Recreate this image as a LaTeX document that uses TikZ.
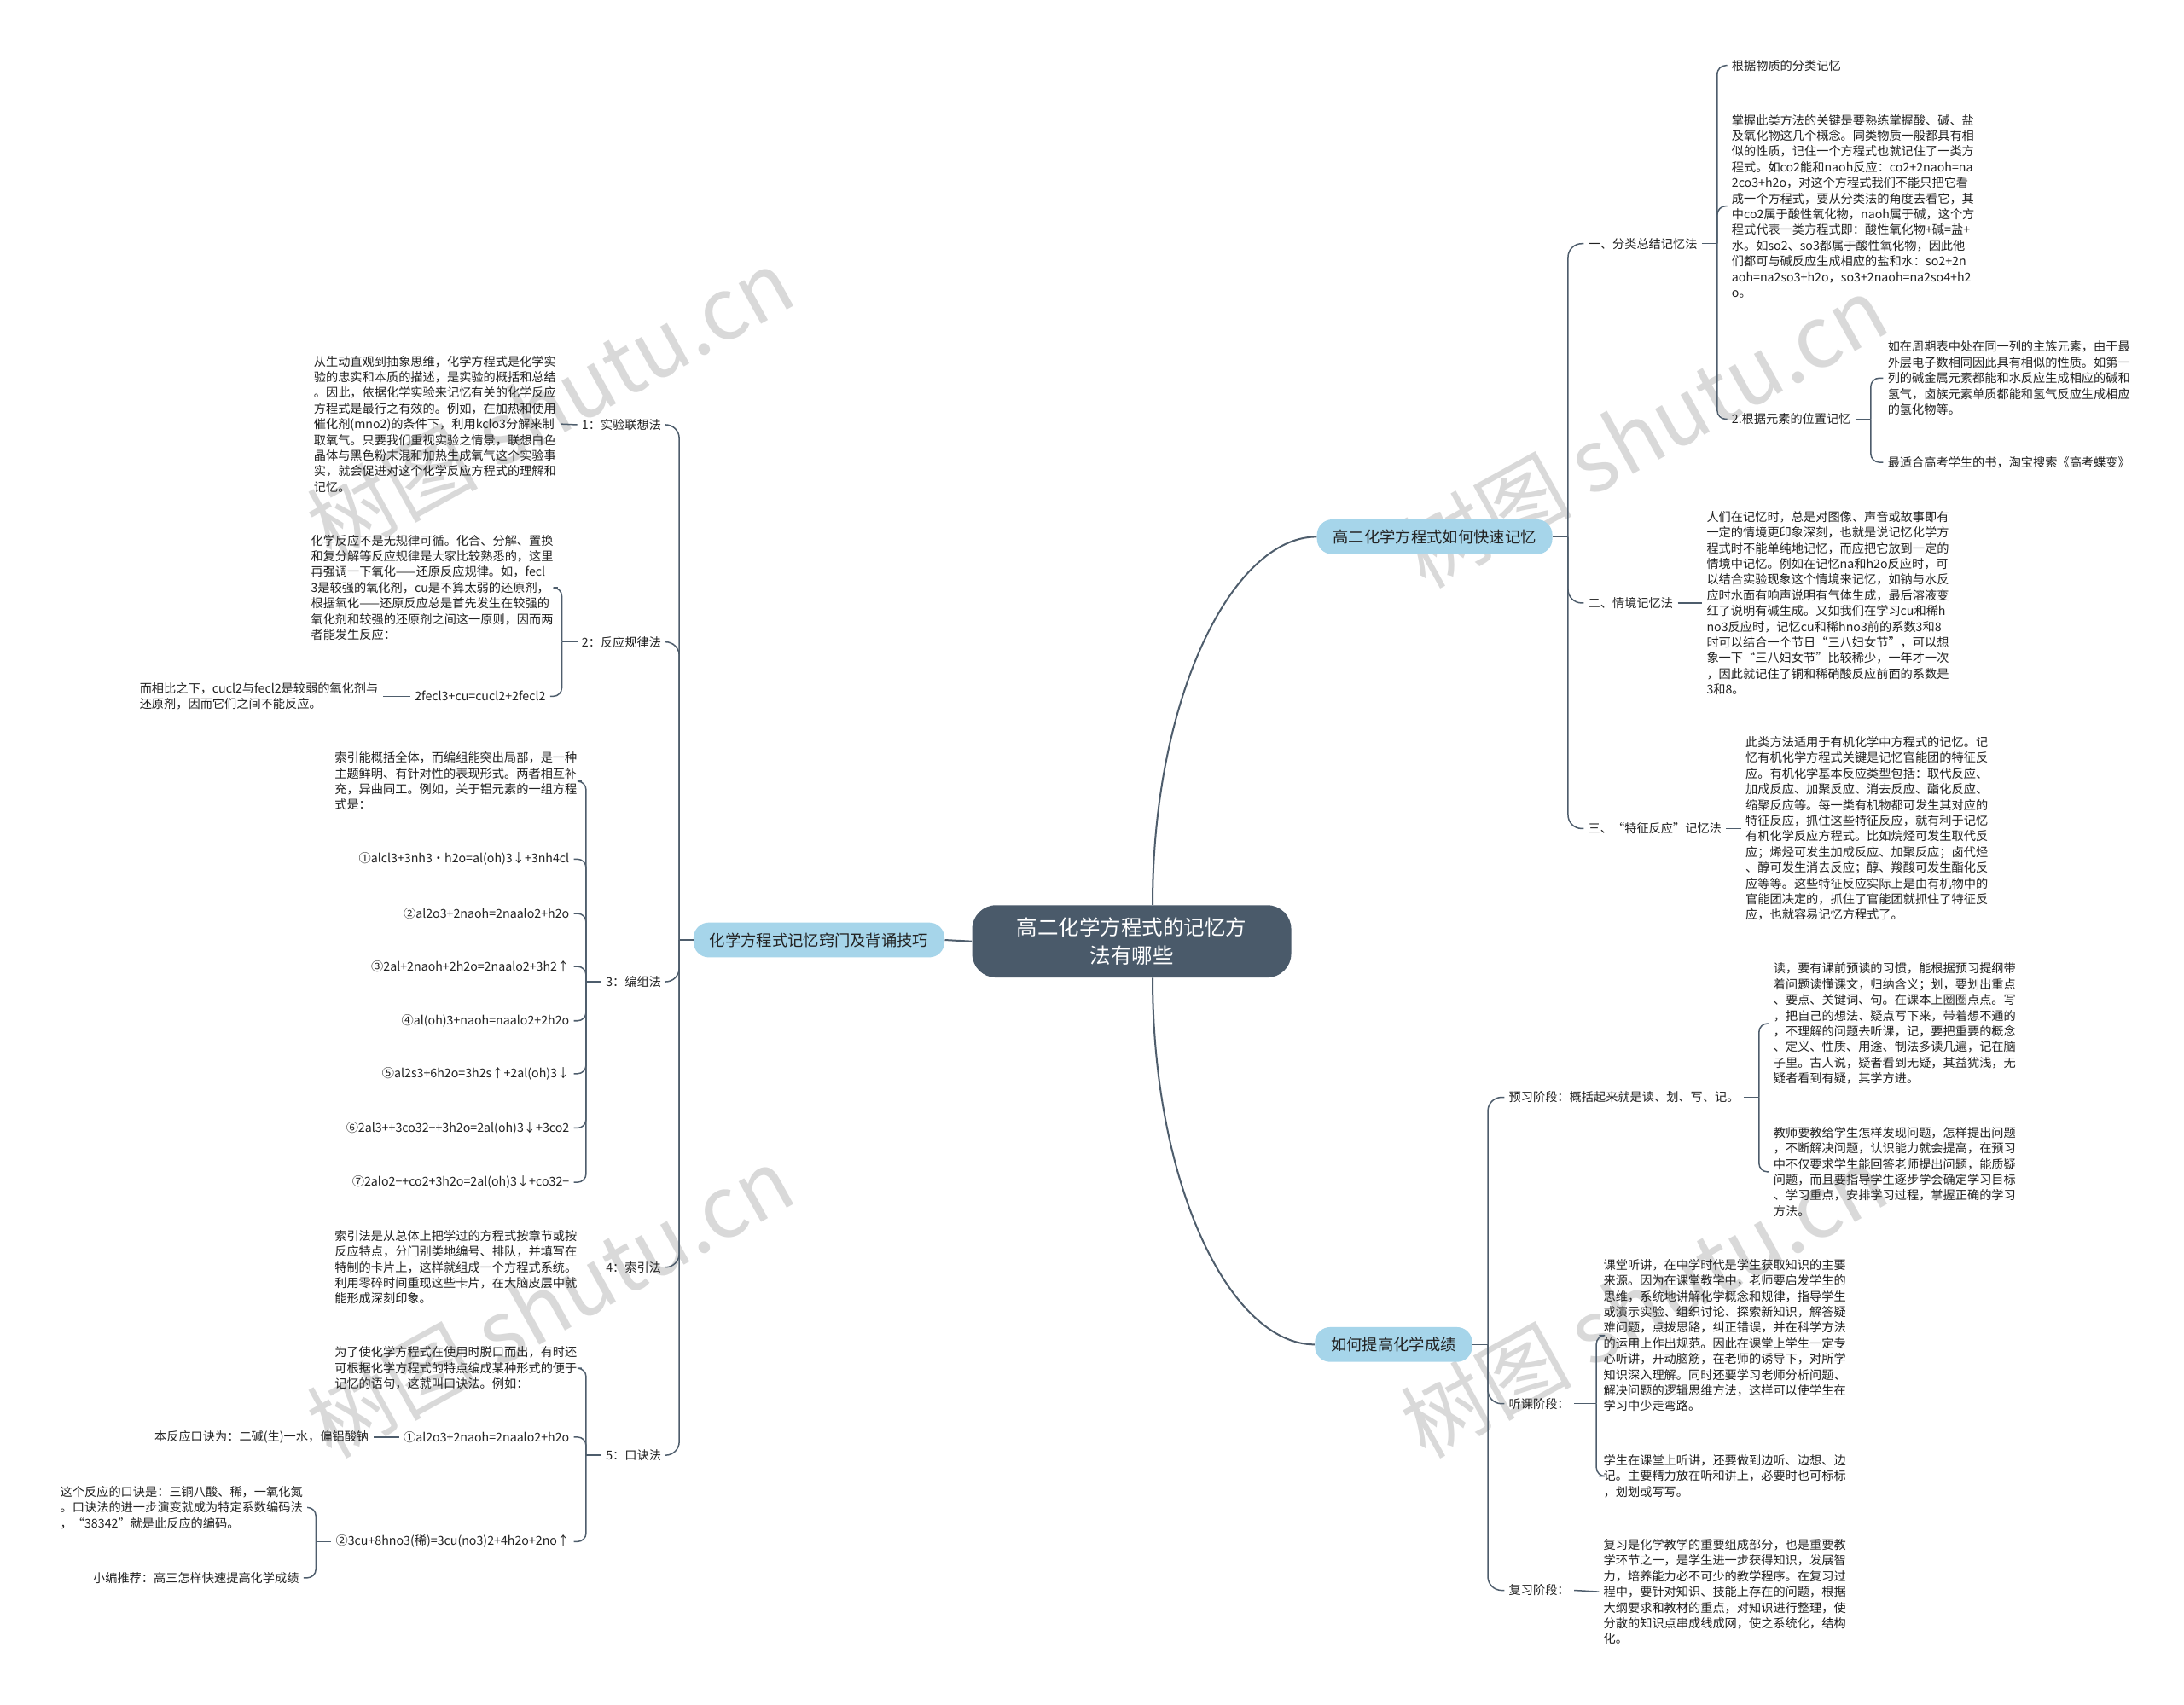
\documentclass[tikz,border=0pt]{standalone}
\usepackage{fontspec}
\setmainfont{Noto Sans CJK SC}
\usetikzlibrary{calc}
\definecolor{ln}{HTML}{4E5D6C}
\definecolor{cn}{HTML}{4A5A6A}
\definecolor{bl}{HTML}{A6D5EA}
\definecolor{tx}{HTML}{222222}
\begin{document}
\begin{tikzpicture}[x=0.8163pt,y=-0.8163pt,
  t/.style={font=\fontsize{7.1pt}{9.2pt}\selectfont, text=tx, inner sep=0pt, inner xsep=2.5pt, align=left},
  tw/.style={t, anchor=west},
  te/.style={t, anchor=east},
  br/.style={fill=bl, rounded corners=9pt, minimum height=20.4pt, inner xsep=9.5pt, inner ysep=0pt,
    font=\fontsize{9.15pt}{11pt}\selectfont, text=tx},
  c/.style={draw=ln, line width=0.75pt, rounded corners=5pt},
  wm/.style={rotate=29, text=black!15, font=\fontsize{50pt}{50pt}\selectfont}]
\useasboundingbox (0,0) rectangle (1568,1224);
\fill[white] (0,0) rectangle (1568,1224);
% watermarks
\node[wm] (w1) at (395,290) {树图 shutu.cn};
\node[wm] (w2) at (1180,310) {树图 shutu.cn};
\node[wm] (w3) at (395,935) {树图 shutu.cn};
\node[wm] (w4) at (1180,935) {树图 shutu.cn};

% center and branches
\node[fill=cn, rounded corners=14pt, minimum width=187pt, minimum height=42.4pt, inner sep=0pt,
  align=center, text=white, font=\fontsize{12.25pt}{16.3pt}\selectfont]
  (C) at (812.5,676) {高二化学方程式的记忆方\\法有哪些};
\node[br] (b1) at (1030,385.5) {高二化学方程式如何快速记忆};
\node[br] (b2) at (1000.5,965.5) {如何提高化学成绩};
\node[br] (L) at (588,675) {化学方程式记忆窍门及背诵技巧};

\draw[c, line width=1pt] ($(C.north)+(15,0)$) .. controls ($(C.north)+(15,-150)$) and ($(b1.west)+(-60,0)$) .. (b1.west);
\draw[c, line width=1pt] ($(C.south)+(15,0)$) .. controls ($(C.south)+(15,150)$) and ($(b2.west)+(-60,0)$) .. (b2.west);
\draw[c, line width=1pt] (C.west) -- (L.east);

% ---------- right branch 1 ----------
\node[tw] (r1) at (1137,175) {一、分类总结记忆法};
\node[tw] (r1a) at (1240,47) {根据物质的分类记忆};
\node[tw] (r1b) at (1240,148) {掌握此类方法的关键是要熟练掌握酸、碱、盐\\及氧化物这几个概念。同类物质一般都具有相\\似的性质，记住一个方程式也就记住了一类方\\程式。如co2能和naoh反应：co2+2naoh=na\\2co3+h2o，对这个方程式我们不能只把它看\\成一个方程式，要从分类法的角度去看它，其\\中co2属于酸性氧化物，naoh属于碱，这个方\\程式代表一类方程式即：酸性氧化物+碱=盐+\\水。如so2、so3都属于酸性氧化物，因此他\\们都可与碱反应生成相应的盐和水：so2+2n\\aoh=na2so3+h2o，so3+2naoh=na2so4+h2\\o。};
\node[tw] (r1c) at (1240,301) {2.根据元素的位置记忆};
\node[tw] (r1c1) at (1352,271.5) {如在周期表中处在同一列的主族元素，由于最\\外层电子数相同因此具有相似的性质。如第一\\列的碱金属元素都能和水反应生成相应的碱和\\氢气，卤族元素单质都能和氢气反应生成相应\\的氢化物等。};
\node[tw] (r1c2) at (1352,332) {最适合高考学生的书，淘宝搜索《高考蝶变》};
\node[tw] (r2) at (1137,433) {二、情境记忆法};
\node[tw] (r2a) at (1222,433) {人们在记忆时，总是对图像、声音或故事即有\\一定的情境更印象深刻，也就是说记忆化学方\\程式时不能单纯地记忆，而应把它放到一定的\\情境中记忆。例如在记忆na和h2o反应时，可\\以结合实验现象这个情境来记忆，如钠与水反\\应时水面有响声说明有气体生成，最后溶液变\\红了说明有碱生成。又如我们在学习cu和稀h\\no3反应时，记忆cu和稀hno3前的系数3和8\\时可以结合一个节日“三八妇女节”，可以想\\象一下“三八妇女节”比较稀少，一年才一次\\，因此就记住了铜和稀硝酸反应前面的系数是\\3和8。};
\node[tw] (r3) at (1137,595) {三、“特征反应”记忆法};
\node[tw] (r3a) at (1250,595) {此类方法适用于有机化学中方程式的记忆。记\\忆有机化学方程式关键是记忆官能团的特征反\\应。有机化学基本反应类型包括：取代反应、\\加成反应、加聚反应、消去反应、酯化反应、\\缩聚反应等。每一类有机物都可发生其对应的\\特征反应，抓住这些特征反应，就有利于记忆\\有机化学反应方程式。比如烷烃可发生取代反\\应；烯烃可发生加成反应、加聚反应；卤代烃\\、醇可发生消去反应；醇、羧酸可发生酯化反\\应等等。这些特征反应实际上是由有机物中的\\官能团决定的，抓住了官能团就抓住了特征反\\应，也就容易记忆方程式了。};

\coordinate (jb1) at ($(b1.east)+(11,0)$);
\draw[c] (b1.east) -- (jb1);
\foreach \n in {r1,r2,r3} \draw[c, rounded corners=8pt] (jb1) -- (jb1 |- \n.west) -- (\n.west);
\coordinate (jr1) at ($(r1.east)+(11,0)$);
\draw[c] (r1.east) -- (jr1);
\foreach \n in {r1a,r1b,r1c} \draw[c] (jr1) -- (jr1 |- \n.west) -- (\n.west);
\coordinate (jr1c) at ($(r1c.east)+(11,0)$);
\draw[c] (r1c.east) -- (jr1c);
\foreach \n in {r1c1,r1c2} \draw[c] (jr1c) -- (jr1c |- \n.west) -- (\n.west);
\draw[c] (r2.east) -- (r2a.west);
\draw[c] (r3.east) -- (r3a.west);

% ---------- right branch 2 ----------
\node[tw] (s1) at (1080,788) {预习阶段：概括起来就是读、划、写、记。};
\node[tw] (s1a) at (1270,735) {读，要有课前预读的习惯，能根据预习提纲带\\着问题读懂课文，归纳含义；划，要划出重点\\、要点、关键词、句。在课本上圈圈点点。写\\，把自己的想法、疑点写下来，带着想不通的\\，不理解的问题去听课，记，要把重要的概念\\、定义、性质、用途、制法多读几遍，记在脑\\子里。古人说，疑者看到无疑，其益犹浅，无\\疑者看到有疑，其学方进。};
\node[tw] (s1b) at (1270,841.5) {教师要教给学生怎样发现问题，怎样提出问题\\，不断解决问题，认识能力就会提高，在预习\\中不仅要求学生能回答老师提出问题，能质疑\\问题，而且要指导学生逐步学会确定学习目标\\、学习重点，安排学习过程，掌握正确的学习\\方法。};
\node[tw] (s2) at (1080,1008) {听课阶段：};
\node[tw] (s2a) at (1148,959) {课堂听讲，在中学时代是学生获取知识的主要\\来源。因为在课堂教学中，老师要启发学生的\\思维，系统地讲解化学概念和规律，指导学生\\或演示实验、组织讨论、探索新知识，解答疑\\难问题，点拨思路，纠正错误，并在科学方法\\的运用上作出规范。因此在课堂上学生一定专\\心听讲，开动脑筋，在老师的诱导下，对所学\\知识深入理解。同时还要学习老师分析问题、\\解决问题的逻辑思维方法，这样可以使学生在\\学习中少走弯路。};
\node[tw] (s2b) at (1148,1060) {学生在课堂上听讲，还要做到边听、边想、边\\记。主要精力放在听和讲上，必要时也可标标\\，划划或写写。};
\node[tw] (s3) at (1080,1142) {复习阶段：};
\node[tw] (s3a) at (1148,1143) {复习是化学教学的重要组成部分，也是重要教\\学环节之一，是学生进一步获得知识，发展智\\力，培养能力必不可少的教学程序。在复习过\\程中，要针对知识、技能上存在的问题，根据\\大纲要求和教材的重点，对知识进行整理，使\\分散的知识点串成线成网，使之系统化，结构\\化。};

\coordinate (jb2) at ($(b2.east)+(11,0)$);
\draw[c] (b2.east) -- (jb2);
\foreach \n in {s1,s2,s3} \draw[c, rounded corners=8pt] (jb2) -- (jb2 |- \n.west) -- (\n.west);
\coordinate (js1) at ($(s1.east)+(11,0)$);
\draw[c] (s1.east) -- (js1);
\foreach \n in {s1a,s1b} \draw[c] (js1) -- (js1 |- \n.west) -- (\n.west);
\coordinate (js2) at ($(s2.east)+(16,0)$);
\draw[c] (s2.east) -- (js2);
\foreach \n in {s2a,s2b} \draw[c] (js2) -- (js2 |- \n.west) -- (\n.west);
\draw[c] (s3.east) -- (s3a.west);

% ---------- left branch ----------
\node[te] (l1) at (478,305) {1：实验联想法};
\node[tw] (l1a) at (222,304.5) {从生动直观到抽象思维，化学方程式是化学实\\验的忠实和本质的描述，是实验的概括和总结\\。因此，依据化学实验来记忆有关的化学反应\\方程式是最行之有效的。例如，在加热和使用\\催化剂(mno2)的条件下，利用kclo3分解来制\\取氧气。只要我们重视实验之情景，联想白色\\晶体与黑色粉末混和加热生成氧气这个实验事\\实，就会促进对这个化学反应方程式的理解和\\记忆。};
\node[te] (l2) at (478,461) {2：反应规律法};
\node[tw] (l2a) at (220,422) {化学反应不是无规律可循。化合、分解、置换\\和复分解等反应规律是大家比较熟悉的，这里\\再强调一下氧化——还原反应规律。如，fecl\\3是较强的氧化剂，cu是不算太弱的还原剂，\\根据氧化——还原反应总是首先发生在较强的\\氧化剂和较强的还原剂之间这一原则，因而两\\者能发生反应：};
\node[te] (l2b) at (395,500) {2fecl3+cu=cucl2+2fecl2};
\node[tw] (l2b1) at (97,500) {而相比之下，cucl2与fecl2是较弱的氧化剂与\\还原剂，因而它们之间不能反应。};
\node[te] (l3) at (478,705) {3：编组法};
\node[tw] (l3a) at (237,561) {索引能概括全体，而编组能突出局部，是一种\\主题鲜明、有针对性的表现形式。两者相互补\\充，异曲同工。例如，关于铝元素的一组方程\\式是：};
\node[te] (l3b) at (412,617) {①alcl3+3nh3·h2o=al(oh)3↓+3nh4cl};
\node[te] (l3c) at (412,656) {②al2o3+2naoh=2naalo2+h2o};
\node[te] (l3d) at (412,694) {③2al+2naoh+2h2o=2naalo2+3h2↑};
\node[te] (l3e) at (412,733) {④al(oh)3+naoh=naalo2+2h2o};
\node[te] (l3f) at (412,771) {⑤al2s3+6h2o=3h2s↑+2al(oh)3↓};
\node[te] (l3g) at (412,810) {⑥2al3++3co32−+3h2o=2al(oh)3↓+3co2};
\node[te] (l3h) at (412,849) {⑦2alo2−+co2+3h2o=2al(oh)3↓+co32−};
\node[te] (l4) at (478,910) {4：索引法};
\node[tw] (l4a) at (237,910) {索引法是从总体上把学过的方程式按章节或按\\反应特点，分门别类地编号、排队，并填写在\\特制的卡片上，这样就组成一个方程式系统。\\利用零碎时间重现这些卡片，在大脑皮层中就\\能形成深刻印象。};
\node[te] (l5) at (478,1045) {5：口诀法};
\node[tw] (l5a) at (237,982.5) {为了使化学方程式在使用时脱口而出，有时还\\可根据化学方程式的特点编成某种形式的便于\\记忆的语句，这就叫口诀法。例如：};
\node[te] (l5b) at (412,1032) {①al2o3+2naoh=2naalo2+h2o};
\node[te] (l5b1) at (268,1032) {本反应口诀为：二碱(生)一水，偏铝酸钠};
\node[te] (l5c) at (412,1107) {②3cu+8hno3(稀)=3cu(no3)2+4h2o+2no↑};
\node[tw] (l5c1) at (40,1082.5) {这个反应的口诀是：三铜八酸、稀，一氧化氮\\。口诀法的进一步演变就成为特定系数编码法\\，“38342”就是此反应的编码。};
\node[te] (l5c2) at (218,1133) {小编推荐：高三怎样快速提高化学成绩};

\coordinate (j0) at ($(L.west)+(-10,0)$);
\draw[c] (L.west) -- (j0);
\foreach \n in {l1,l2,l3,l4,l5} \draw[c, rounded corners=8pt] (j0) -- (j0 |- \n.east) -- (\n.east);
\draw[c] (l1.west) -- (l1a.east);
\coordinate (j2) at ($(l2.west)+(-11,0)$);
\draw[c] (l2.west) -- (j2);
\foreach \n in {l2a,l2b} \draw[c] (j2) -- (j2 |- \n.east) -- (\n.east);
\draw[c] (l2b.west) -- (l2b1.east);
\coordinate (j3) at ($(l3.west)+(-11,0)$);
\draw[c] (l3.west) -- (j3);
\foreach \n in {l3a,l3b,l3c,l3d,l3e,l3f,l3g,l3h} \draw[c] (j3) -- (j3 |- \n.east) -- (\n.east);
\draw[c] (l4.west) -- (l4a.east);
\coordinate (j5) at ($(l5.west)+(-11,0)$);
\draw[c] (l5.west) -- (j5);
\foreach \n in {l5a,l5b,l5c} \draw[c] (j5) -- (j5 |- \n.east) -- (\n.east);
\draw[c] (l5b.west) -- (l5b1.east);
\coordinate (j5c) at ($(l5c.west)+(-11,0)$);
\draw[c] (l5c.west) -- (j5c);
\foreach \n in {l5c1,l5c2} \draw[c] (j5c) -- (j5c |- \n.east) -- (\n.east);
\end{tikzpicture}
\end{document}
